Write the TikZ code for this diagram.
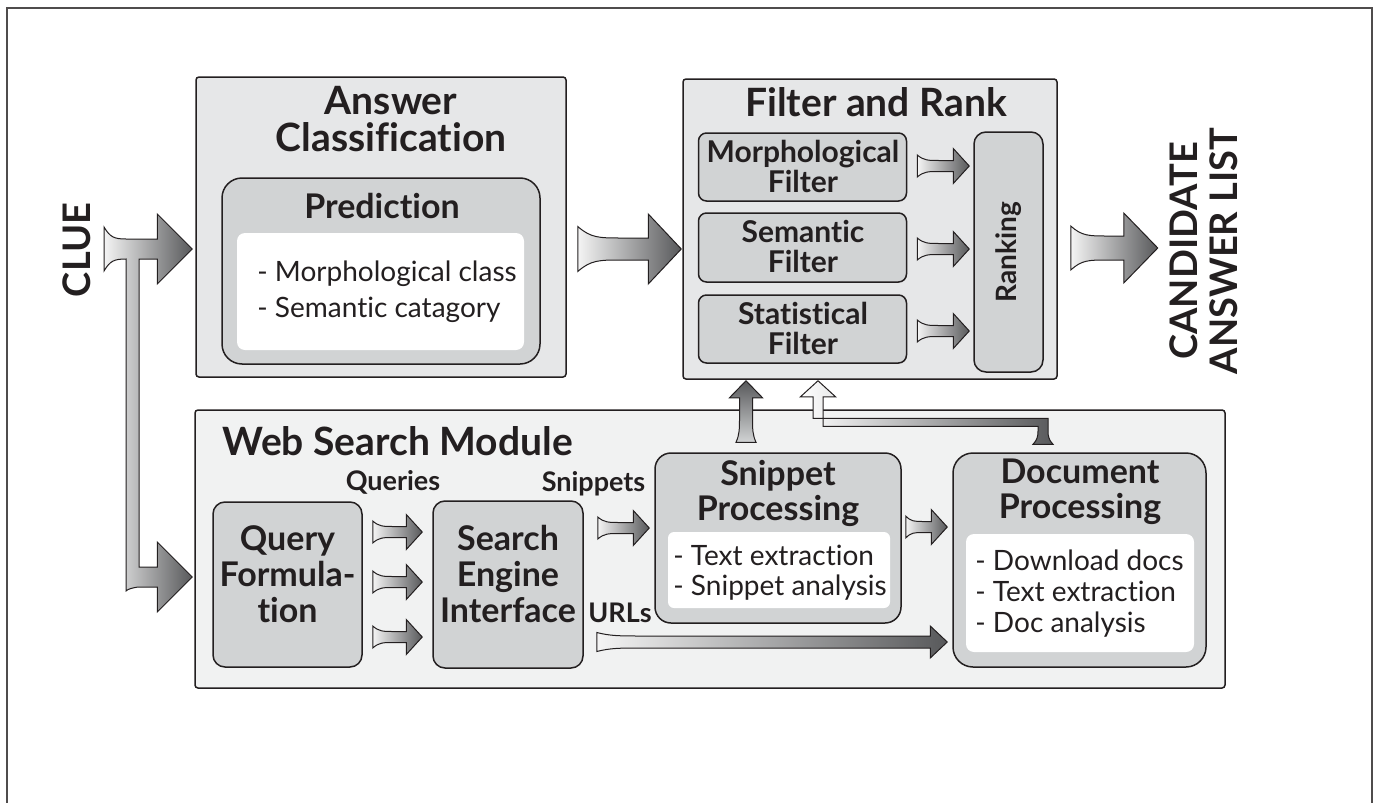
\documentclass[tikz,border=0pt]{standalone}
\usepackage{fontspec}
\setmainfont{Lato}[Ligatures=CommonOff]
\usetikzlibrary{calc}
\definecolor{ink}{HTML}{231F20}
\definecolor{boxlight}{HTML}{E6E7E8}
\definecolor{boxmid}{HTML}{D1D3D4}
\definecolor{boxpale}{HTML}{F1F2F2}
\definecolor{tipdark}{HTML}{58595B}
\definecolor{tiplight}{HTML}{F4F4F4}

\newcommand{\harrow}[6]{%
  \draw[flare, left color=tiplight, right color=tipdark] let \p1=#1, \p2=#2, \n1={min(0.42*(\x2-\x1),23)} in
  (\x1,\y1+#3) .. controls (\x1+0.3*\n1,\y1+#4) and (\x1+0.5*\n1,\y1+#4) .. (\x1+\n1,\y1+#4)
  -- (\x2-#6,\y1+#4) -- (\x2-#6,\y1+#5) -- (\x2,\y1) -- (\x2-#6,\y1-#5) -- (\x2-#6,\y1-#4)
  -- (\x1+\n1,\y1-#4) .. controls (\x1+0.5*\n1,\y1-#4) and (\x1+0.3*\n1,\y1-#4) .. (\x1,\y1-#3) -- cycle;}
\newcommand{\varrow}[6]{%
  \draw[flare, bottom color=boxmid, top color=tipdark] let \p1=#1, \p2=#2, \n1={min(0.42*(\y2-\y1),23)} in
  (\x1+#3,\y1) .. controls (\x1+#4,\y1+0.3*\n1) and (\x1+#4,\y1+0.5*\n1) .. (\x1+#4,\y1+\n1)
  -- (\x1+#4,\y2-#6) -- (\x1+#5,\y2-#6) -- (\x1,\y2) -- (\x1-#5,\y2-#6) -- (\x1-#4,\y2-#6)
  -- (\x1-#4,\y1+\n1) .. controls (\x1-#4,\y1+0.5*\n1) and (\x1-#4,\y1+0.3*\n1) .. (\x1-#3,\y1) -- cycle;}

\begin{document}
\begin{tikzpicture}[x=0.5pt, y=-0.5pt,
    outer/.style={draw=ink, line width=0.75pt, fill=boxlight, rounded corners=1.5pt, inner sep=0pt},
    inner/.style={draw=ink, line width=0.75pt, fill=boxmid, inner sep=0pt},
    paper/.style={fill=white, rounded corners=4pt, inner sep=0pt},
    flare/.style={draw=ink, line width=0.5pt},
    ttl/.style={font=\fontsize{19.5}{18.5}\selectfont\bfseries, text=ink, inner sep=0pt, align=center, anchor=base},
    sub/.style={font=\fontsize{17}{17.5}\selectfont\bfseries, text=ink, inner sep=0pt, align=center, anchor=base},
    flt/.style={font=\fontsize{15}{15}\selectfont\bfseries, text=ink, inner sep=0pt, align=center, anchor=base},
    lst/.style={font=\fontsize{14}{18}\selectfont, text=ink, inner sep=0pt, align=left, anchor=base west},
    lbl/.style={font=\fontsize{13.5}{13.5}\selectfont\bfseries, text=ink, inner sep=0pt, anchor=base}]

\useasboundingbox (0,0) rectangle (1377,803);
\draw[ink!80, line width=1.2pt] (7,8) rectangle (1372,830);

\node[outer, minimum width=185pt, minimum height=150pt] (ac) at (381,227) {};
\node[inner, rounded corners=10pt, minimum width=159pt, minimum height=93pt] (pred) at (381,271) {};
\node[paper, minimum width=143.5pt, minimum height=58.5pt] (predw) at (380.5,291.5) {};
\node[ttl] (ac-t) at (391,151) {Answer\\Classification};
\node[sub] (pred-t) at (382,218) {Prediction};
\node[lst] (pred-l) at (257,317) {- Morphological class\\- Semantic catagory};

\node[outer, minimum width=187pt, minimum height=150pt] (fr) at (870,229) {};
\node[ttl] (fr-t) at (876,116) {Filter and Rank};
\node[inner, rounded corners=4pt, minimum width=104pt, minimum height=34pt] (mf) at (802.5,167) {};
\node[inner, rounded corners=4pt, minimum width=104pt, minimum height=34.5pt] (sf) at (802.5,247.5) {};
\node[inner, rounded corners=4pt, minimum width=104pt, minimum height=34pt] (stf) at (802.5,329) {};
\node[inner, rounded corners=6pt, minimum width=34.5pt, minimum height=120pt] (rk) at (1008.5,252) {};
\node[flt] (mf-t) at (803,192) {Morphological\\Filter};
\node[flt] (sf-t) at (803,272) {Semantic\\Filter};
\node[flt] (stf-t) at (803,354) {Statistical\\Filter};
\node[flt, font=\fontsize{14}{14}\selectfont\bfseries, anchor=center, rotate=90] (rk-t) at (rk) {Ranking};

\node[font=\fontsize{19}{19}\selectfont\bfseries, text=ink, inner sep=0pt, rotate=90] (clue) at (77,250) {CLUE};
\node[font=\fontsize{19}{20}\selectfont\bfseries, text=ink, inner sep=0pt, align=center, rotate=90] (cal) at (1204,251) {CANDIDATE\\ANSWER LIST};

\node[outer, fill=boxpale, minimum width=515pt, minimum height=139pt] (ws) at (710,549) {};
\node[ttl, anchor=base west] (ws-t) at (222,455) {Web Search Module};
\node[inner, rounded corners=6pt, minimum width=74.5pt, minimum height=82.5pt] (qf) at (287.5,584.5) {};
\node[inner, rounded corners=6pt, minimum width=75pt, minimum height=83.5pt] (se) at (508,584.5) {};
\node[inner, rounded corners=8pt, minimum width=123pt, minimum height=85pt] (sp) at (778,538) {};
\node[paper, rounded corners=3pt, minimum width=111pt, minimum height=38pt] (spw) at (779,570) {};
\node[inner, rounded corners=10pt, minimum width=126.5pt, minimum height=107pt] (dp) at (1079.5,560) {};
\node[paper, minimum width=114pt, minimum height=59pt] (dpw) at (1080,593) {};
\node[lbl] (q-l) at (393,490) {Queries};
\node[lbl] (s-l) at (593.5,491) {Snippets};
\node[lbl] (u-l) at (620,622) {URLs};
\node[sub, font=\fontsize{17}{18}\selectfont\bfseries] (qf-t) at (287.5,622) {Query\\Formula-\\tion};
\node[sub, font=\fontsize{17}{18}\selectfont\bfseries] (se-t) at (508,622) {Search\\Engine\\Interface};
\node[sub] (sp-t) at (778,520) {Snippet\\Processing};
\node[lst, font=\fontsize{14}{15}\selectfont] (sp-l) at (673,595) {- Text extraction\\- Snippet analysis};
\node[sub] (dp-t) at (1080,518) {Document\\Processing};
\node[lst, font=\fontsize{14}{15.5}\selectfont] (dp-l) at (975,632) {- Download docs\\- Text extraction\\- Doc analysis};

\coordinate (clue-in) at ($(clue)+(27,-1)$);
\coordinate (clue-a) at ($(ac.west)+(-3,22)$);
\coordinate (clue-b) at ($(qf.west)+(-20,-7.5)$);
\draw[flare, left color=tiplight, right color=tipdark] let \p1=(clue-in), \p2=(clue-a), \p3=(clue-b) in
  (\x1,\y1+11) .. controls (\x1+3,\y1+6) and (\x1+5,\y1+5) .. (\x1+11,\y1+5)
  -- (\x2-17.5,\y1+5) -- (\x2-17.5,\y1+17.5) -- (\x2,\y1) -- (\x2-17.5,\y1-17.5) -- (\x2-17.5,\y1-5)
  -- (\x1+17.5,\y1-5) -- (\x1+17.5,\y3+5)
  -- (\x3-17.5,\y3+5) -- (\x3-17.5,\y3+17.5) -- (\x3,\y3) -- (\x3-17.5,\y3-17.5) -- (\x3-17.5,\y3-5)
  -- (\x1+17,\y3-5) .. controls (\x1+14,\y3-5.5) and (\x1+12,\y3-6) .. (\x1+11,\y3-7)
  -- (\x1+11,\y1-5) .. controls (\x1+5,\y1-5) and (\x1+3,\y1-6) .. (\x1,\y1-11) -- cycle;

\harrow{($(ac.east)+(11,22)$)}{($(fr.west)+(-1,20)$)}{11.25}{5.5}{17.5}{16.5}
\harrow{($(fr.east)+(13,19)$)}{($(fr.east)+(100,19)$)}{11}{6}{17.5}{17}
\harrow{($(mf.east)+(10,-1)$)}{($(mf.east -| rk.west)+(-4,-1)$)}{5.5}{2.75}{8.75}{8}
\harrow{($(sf.east)+(10,1.5)$)}{($(sf.east -| rk.west)+(-4,1.5)$)}{5.5}{2.75}{8.75}{8}
\harrow{($(stf.east)+(10,2)$)}{($(stf.east -| rk.west)+(-4,2)$)}{5.5}{2.75}{8.75}{8}
\foreach \dy in {-52.5,-2.5,52.5}
  \harrow{($(qf.east)+(10,\dy)$)}{($(se.west)+(-10,\dy)$)}{5.5}{2.75}{8.75}{8};
\harrow{($(se.east)+(14,-56.5)$)}{($(sp.west)+(-5,-10)$)}{5.5}{2.75}{8.75}{8}
\harrow{($(se.east)+(13,57.5)$)}{($(dp.west)+(-5,82.5)$)}{4.75}{3}{8}{8.5}
\harrow{($(sp.east)+(4,-11)$)}{($(dp.west)+(-5,-33)$)}{5.5}{2.75}{8.75}{8}
\varrow{($(sp.north)+(-32,-10)$)}{($(fr.south)+(-124,1)$)}{5}{3.25}{8.25}{8.5}

\coordinate (fb-in) at ($(dp.north)+(-36.5,-8)$);
\coordinate (fb-out) at ($(fr.south)+(-52,1)$);
\draw[flare, left color=white, right color=tipdark] let \p1=(fb-in), \p2=(fb-out) in
  (\x1-5,\y1) .. controls (\x1-3,\y1+2) and (\x1-2.5,\y1+4) .. (\x1-2.5,\y1+6.5)
  -- (\x1-2.5,\y1+9) -- (\x2+2.5,\y1+9) -- (\x2+2.5,\y2-8) -- (\x2+8.75,\y2-8) -- (\x2,\y2)
  -- (\x2-8.75,\y2-8) -- (\x2-2.5,\y2-8) -- (\x2-2.5,\y1+13) -- (\x1+2.5,\y1+13) -- (\x1+2.5,\y1+6.5)
  .. controls (\x1+2.5,\y1+4) and (\x1+3,\y1+2) .. (\x1+5,\y1) -- cycle;
\end{tikzpicture}
\end{document}
